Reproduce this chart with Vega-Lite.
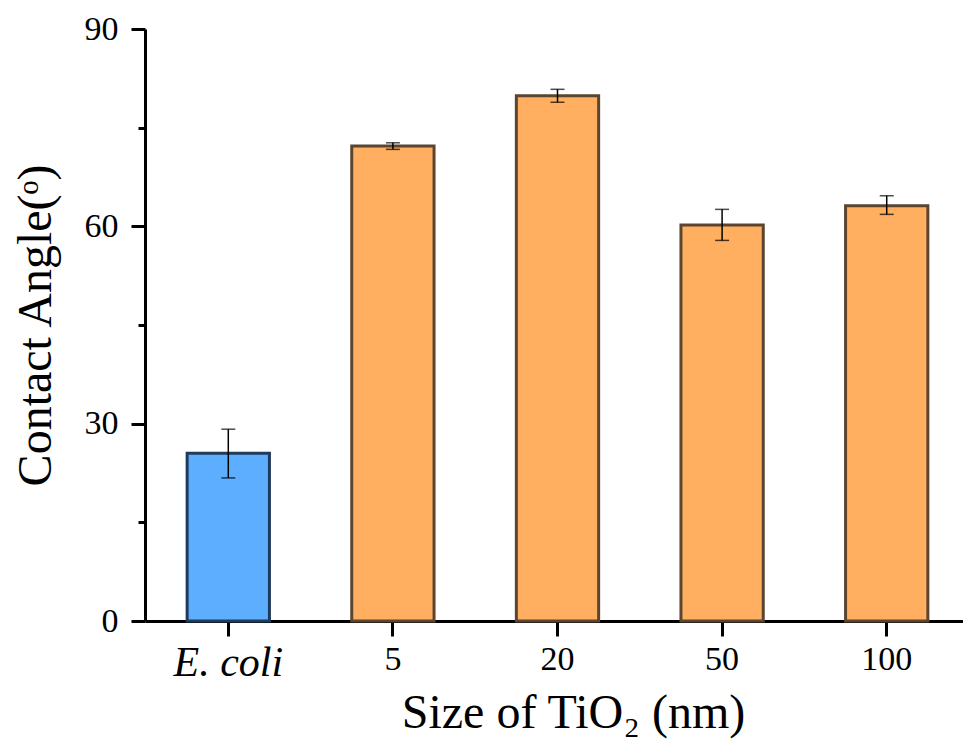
{
  "$schema": "https://vega.github.io/schema/vega-lite/v6.json",
  "autosize": "none",
  "padding": {"left": 145, "top": 29, "right": 0, "bottom": 126},
  "width": 818,
  "height": 592,
  "background": "white",
  "config": {
    "view": {"stroke": null},
    "font": "Liberation Serif"
  },
  "data": {
    "values": [
      {"sample": "E. coli", "group": "control", "angle": 25.5, "lo": 21.75, "hi": 29.16},
      {"sample": "5", "group": "TiO2", "angle": 72.2, "lo": 71.7, "hi": 72.7},
      {"sample": "20", "group": "TiO2", "angle": 79.85, "lo": 78.86, "hi": 80.83},
      {"sample": "50", "group": "TiO2", "angle": 60.2, "lo": 57.86, "hi": 62.58},
      {"sample": "100", "group": "TiO2", "angle": 63.13, "lo": 61.82, "hi": 64.65}
    ]
  },
  "encoding": {
    "x": {
      "field": "sample",
      "type": "nominal",
      "sort": ["E. coli", "5", "20", "50", "100"],
      "scale": {"range": [0, 825], "paddingInner": 0.5, "paddingOuter": 0.256},
      "axis": {
        "title": "Size of TiO₂ (nm)",
        "titleFont": "Liberation Serif",
        "titleFontSize": 48,
        "titleFontWeight": "normal",
        "titleColor": "black",
        "titlePadding": 6,
        "titleX": 428,
        "labelFont": "Liberation Serif",
        "labelFontSize": {"condition": {"test": "datum.value == 'E. coli'", "value": 42}, "value": 34},
        "labelColor": "black",
        "labelAngle": 0,
        "labelPadding": 6,
        "labelFontStyle": {"condition": {"test": "datum.value == 'E. coli'", "value": "italic"}, "value": "normal"},
        "domainColor": "black",
        "domainWidth": 3,
        "tickColor": "black",
        "tickWidth": 3,
        "tickSize": 15
      }
    }
  },
  "layer": [
    {
      "mark": {"type": "bar", "strokeWidth": 3},
      "encoding": {
        "y": {
          "field": "angle",
          "type": "quantitative",
          "scale": {"domain": [0, 90], "nice": false},
          "axis": {
            "title": "Contact Angle(ᵒ)",
            "titleFont": "Liberation Serif",
            "titleFontSize": 48,
            "titleFontWeight": "normal",
            "titleColor": "black",
            "titlePadding": 24,
            "values": [0, 15, 30, 45, 60, 75, 90],
            "labelExpr": "datum.value % 30 == 0 ? datum.label : ''",
            "labelFont": "Liberation Serif",
            "labelFontSize": 34,
            "labelColor": "black",
            "labelPadding": 13,
            "grid": false,
            "domainColor": "black",
            "domainWidth": 3,
            "tickColor": "black",
            "tickWidth": 3,
            "tickSize": {"condition": {"test": "datum.value % 30 != 0", "value": 7}, "value": 14}
          }
        },
        "fill": {
          "field": "group",
          "type": "nominal",
          "scale": {"domain": ["control", "TiO2"], "range": ["#5EAEFF", "#FFAF5F"]},
          "legend": null
        },
        "stroke": {
          "field": "group",
          "type": "nominal",
          "scale": {"domain": ["control", "TiO2"], "range": ["#1F3B5B", "#5B4530"]},
          "legend": null
        }
      }
    },
    {
      "mark": {"type": "rule", "color": "black", "strokeWidth": 1.5},
      "encoding": {
        "y": {"field": "lo", "type": "quantitative"},
        "y2": {"field": "hi"}
      }
    },
    {
      "mark": {"type": "tick", "orient": "horizontal", "color": "black", "size": 14, "thickness": 1.5},
      "encoding": {
        "y": {"field": "lo", "type": "quantitative"}
      }
    },
    {
      "mark": {"type": "tick", "orient": "horizontal", "color": "black", "size": 14, "thickness": 1.5},
      "encoding": {
        "y": {"field": "hi", "type": "quantitative"}
      }
    }
  ]
}
